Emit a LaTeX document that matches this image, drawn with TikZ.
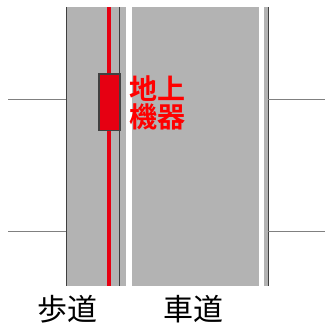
\documentclass[tikz,border=0pt]{standalone}
\usepackage{fontspec}
\newfontfamily\cjk{Noto Sans CJK JP}
\newfontfamily\cjkbold{Noto Sans CJK JP Bold}
\definecolor{roadgray}{RGB}{179,179,179}
\definecolor{darkline}{RGB}{64,64,64}
\definecolor{midline}{RGB}{128,128,128}
\definecolor{devred}{RGB}{230,0,18}
\definecolor{textred}{RGB}{255,0,0}
\tikzset{
  surface/.style={fill=roadgray, draw=none},
  edgeline/.style={draw=darkline, line width=1.3pt},
  sideline/.style={draw=midline, line width=1.3pt},
  cable/.style={draw=devred, line width=4pt},
  device/.style={draw=darkline, fill=devred, line width=1.2pt, minimum width=21pt, minimum height=56.5pt, inner sep=0pt},
  redlabel/.style={text=textred, font=\cjkbold\fontsize{28}{28}\selectfont, align=left, inner sep=0pt},
  blacklabel/.style={text=black, font=\cjk\fontsize{30}{30}\selectfont, inner sep=0pt}
}
\begin{document}
\begin{tikzpicture}[x=1pt,y=-1pt]
\useasboundingbox (0,0) rectangle (325,327);
% surfaces
\fill[surface] (66,7) rectangle (126,286);
\fill[surface] (132,7) rectangle (258.5,286);
\fill[surface] (264,7) rectangle (268,286);
% edge lines
\draw[edgeline] (66.5,7) -- (66.5,286);
\draw[edgeline] (119.5,7) -- (119.5,286);
\draw[edgeline] (268.3,7) -- (268.3,286);
% side lines
\draw[sideline] (8,99.3) -- (66,99.3);
\draw[sideline] (8,231.7) -- (66,231.7);
\draw[sideline] (268.3,99.3) -- (325,99.3);
\draw[sideline] (268.3,231.7) -- (325,231.7);
% cable
\draw[cable] (109.3,7) -- (109.3,286);
% device
\node[device] (dev) at (109.5,102.3) {};
% labels
\node[redlabel] (devlabel) at (157,102.5) {地上\\機器};
\node[blacklabel] (walk) at (67.5,309) {歩道};
\node[blacklabel] (road) at (193,309) {車道};
\end{tikzpicture}
\end{document}
